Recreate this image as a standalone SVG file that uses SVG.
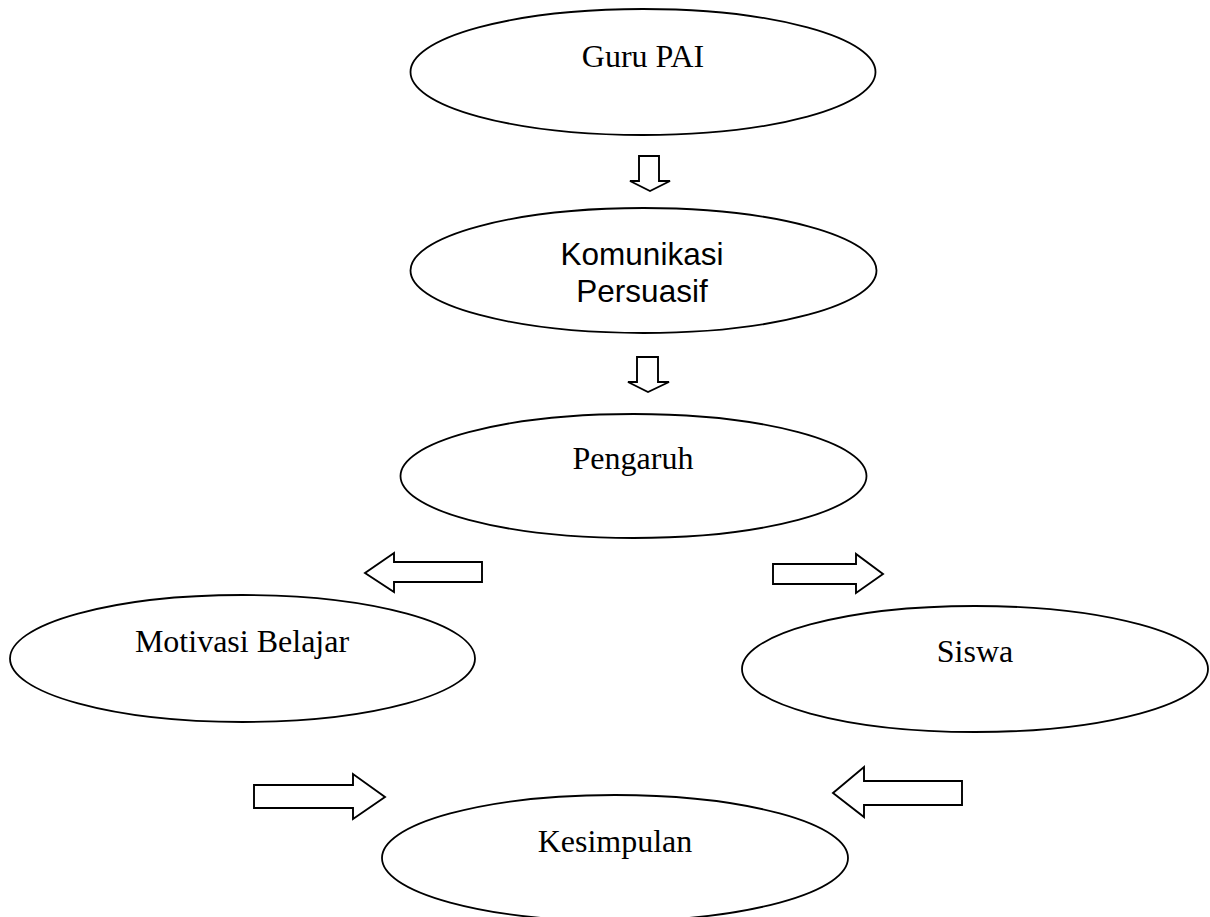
<svg xmlns="http://www.w3.org/2000/svg" width="1210" height="917" viewBox="0 0 1210 917">
<style>
.shape{fill:#fff;stroke:#000;stroke-width:1.8}
.serif{font-family:"Liberation Serif","Times New Roman",serif;font-size:32px;fill:#000;text-anchor:middle}
.sans{font-family:"Liberation Sans",Arial,sans-serif;font-size:31.5px;fill:#000;text-anchor:middle}
.arrow{fill:#fff;stroke:#000;stroke-width:1.9;stroke-linejoin:miter}
</style>
<rect width="1210" height="917" fill="#fff"/>
<g id="node-guru">
<ellipse class="shape" cx="643" cy="72" rx="232.5" ry="63"/>
<text class="serif" x="643" y="67">Guru PAI</text>
</g>
<g id="node-komunikasi">
<ellipse class="shape" cx="643.5" cy="270.5" rx="233" ry="62.5"/>
<text class="sans" x="642" y="265">Komunikasi</text>
<text class="sans" x="642" y="302">Persuasif</text>
</g>
<g id="node-pengaruh">
<ellipse class="shape" cx="633.5" cy="476" rx="233" ry="62"/>
<text class="serif" x="633" y="469">Pengaruh</text>
</g>
<g id="node-motivasi">
<ellipse class="shape" cx="242.5" cy="658.5" rx="232.5" ry="63.5"/>
<text class="serif" x="242" y="652">Motivasi Belajar</text>
</g>
<g id="node-siswa">
<ellipse class="shape" cx="975" cy="669" rx="233" ry="63"/>
<text class="serif" x="975" y="662">Siswa</text>
</g>
<g id="node-kesimpulan">
<ellipse class="shape" cx="615" cy="858" rx="233" ry="63"/>
<text class="serif" x="615" y="852">Kesimpulan</text>
</g>
<g id="connectors">
<polygon class="arrow" points="639,156 659,156 659,181 670,181 650,191 630,181 639,181"/>
<polygon class="arrow" points="637,357 658,357 658,382 669,382 648,392 628,382 637,382"/>
<polygon class="arrow" points="482,562 482,582 394,582 394,592 365,573 394,553 394,562"/>
<polygon class="arrow" points="773,564 856,564 856,554 883,574 856,593 856,584 773,584"/>
<polygon class="arrow" points="254,785 353,785 353,774 385,797 353,819 353,808 254,808"/>
<polygon class="arrow" points="962,781 962,805 864,805 864,817 833,793 864,767 864,781"/>
</g>
</svg>
